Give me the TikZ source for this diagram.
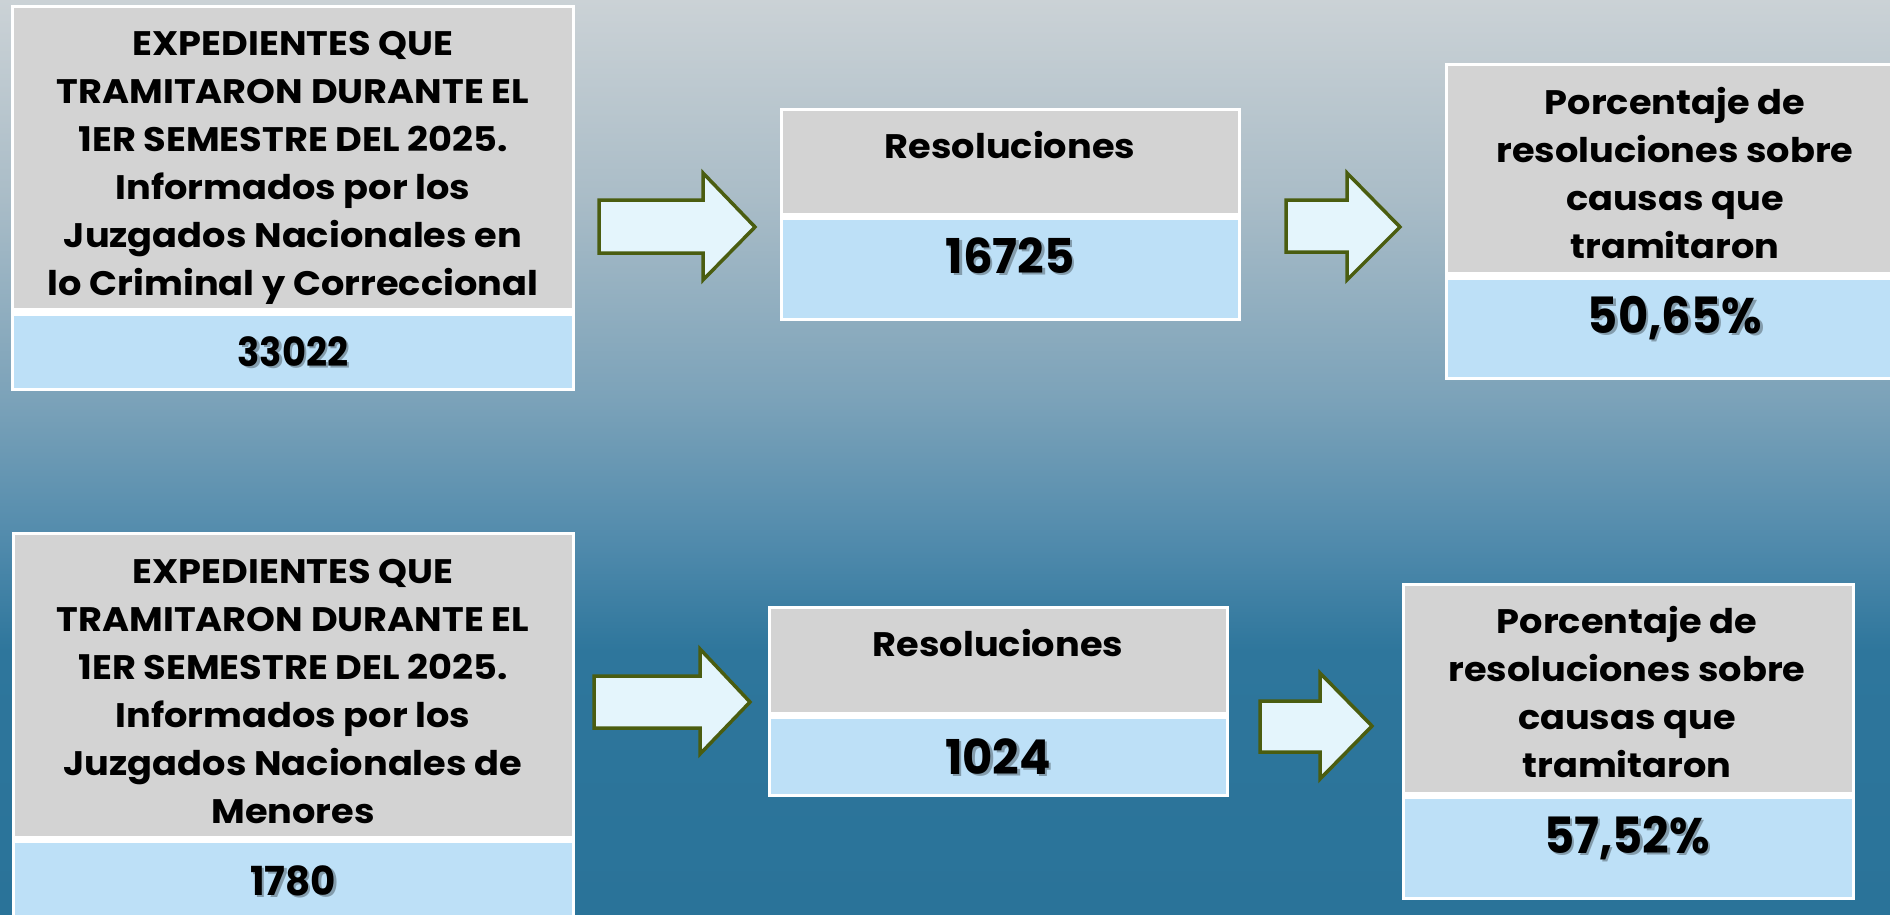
\documentclass[tikz,border=0pt]{standalone}
\usepackage{fontspec}
\setmainfont{Poppins}
\newfontfamily\ttlfont{Poppins}[FakeStretch=1.08]
\usepackage{graphicx}
\definecolor{bgA}{RGB}{203,210,214}
\definecolor{bgB}{RGB}{169,188,199}
\definecolor{bgC}{RGB}{123,162,185}
\definecolor{bgD}{RGB}{78,137,171}
\definecolor{bgE}{RGB}{46,118,156}
\definecolor{bgF}{RGB}{42,115,153}
\definecolor{graybox}{RGB}{211,211,211}
\definecolor{bluebox}{RGB}{189,224,247}
\definecolor{arrowfill}{RGB}{228,245,252}
\definecolor{arrowline}{RGB}{74,93,16}
\tikzset{
  ttl/.style={font=\ttlfont\bfseries\fontsize{34}{48}\selectfont, align=center, inner sep=0pt, anchor=north},
  num/.style={font=\bfseries\fontsize{#1}{48}\selectfont, inner sep=0pt, anchor=base},
  numshadow/.style={font=\bfseries\fontsize{#1}{48}\selectfont, inner sep=0pt, anchor=base, text=black, text opacity=0.3},
  blockarrow/.style={fill=arrowfill, draw=arrowline, line width=3.5pt, line join=miter},
}
\newcommand{\numtxt}[2]{\scalebox{#1}[1]{#2}}
\begin{document}
\begin{tikzpicture}[x=1pt,y=-1pt]
\useasboundingbox (0,0) rectangle (1890,915);
\begin{scope}
\clip (0,0) rectangle (1890,915);
% background gradient
\fill[top color=bgA, bottom color=bgB] (0,0) rectangle (1890,201);
\fill[top color=bgB, bottom color=bgC] (0,200) rectangle (1890,401);
\fill[top color=bgC, bottom color=bgD] (0,400) rectangle (1890,551);
\fill[top color=bgD, bottom color=bgE] (0,550) rectangle (1890,651);
\fill[top color=bgE, bottom color=bgF] (0,650) rectangle (1890,915);

% ---------- top row ----------
% box 1
\fill[white] (11,5) rectangle (575,391);
\fill[graybox] (14,8) rectangle (572,308);
\fill[bluebox] (14,316) rectangle (572,388);
% box 2
\fill[white] (780,108) rectangle (1241,321);
\fill[graybox] (783,111) rectangle (1238,213);
\fill[bluebox] (783,220) rectangle (1238,318);
% box 3
\fill[white] (1445,63) rectangle (1905,380);
\fill[graybox] (1448,66) rectangle (1902,272);
\fill[bluebox] (1448,280) rectangle (1902,377);

% ---------- bottom row ----------
% box 4
\fill[white] (12,532) rectangle (575,930);
\fill[graybox] (15,535) rectangle (572,836);
\fill[bluebox] (15,843) rectangle (572,927);
% box 5
\fill[white] (768,606) rectangle (1229,797);
\fill[graybox] (771,609) rectangle (1226,712);
\fill[bluebox] (771,719) rectangle (1226,794);
% box 6
\fill[white] (1402,583) rectangle (1855,900);
\fill[graybox] (1405,586) rectangle (1852,792);
\fill[bluebox] (1405,799) rectangle (1852,897);
\end{scope}

% arrows
\draw[blockarrow] (599,200) -- (703,200) -- (703,173) -- (755,227) -- (703,280) -- (703,253) -- (599,253) -- cycle;
\draw[blockarrow] (1286,200) -- (1347,200) -- (1347,173) -- (1400,227) -- (1347,280) -- (1347,252) -- (1286,252) -- cycle;
\draw[blockarrow] (594,676) -- (700,676) -- (700,649) -- (750,702) -- (700,754) -- (700,728) -- (594,728) -- cycle;
\draw[blockarrow] (1260,701) -- (1320,701) -- (1320,673) -- (1372,726) -- (1320,779) -- (1320,752) -- (1260,752) -- cycle;

% titles
\node[ttl] (t1) at (293,21.4) {\strut EXPEDIENTES QUE\\TRAMITARON DURANTE EL\\1ER SEMESTRE DEL 2025.\\Informados por los\\Juzgados Nacionales en\\lo Criminal y Correccional};
\node[ttl] (t2) at (1010,124.4) {\strut Resoluciones};
\node[ttl] (t3) at (1675,80.4) {\strut Porcentaje de\\resoluciones sobre\\causas que\\tramitaron};
\node[ttl] (t4) at (293,549.4) {\strut EXPEDIENTES QUE\\TRAMITARON DURANTE EL\\1ER SEMESTRE DEL 2025.\\Informados por los\\Juzgados Nacionales de\\Menores};
\node[ttl] (t5) at (998,622.4) {\strut Resoluciones};
\node[ttl] (t6) at (1627,599.4) {\strut Porcentaje de\\resoluciones sobre\\causas que\\tramitaron};

% numbers with shadows
\node[numshadow=40] (s1) at (295.5,368.5) {\numtxt{0.92}{33022}};
\node[num=40] (n1) at (293,366) {\numtxt{0.92}{33022}};
\node[numshadow=48] (s2) at (1012.5,275.5) {\numtxt{0.97}{16725}};
\node[num=48] (n2) at (1010,273) {\numtxt{0.97}{16725}};
\node[numshadow=50] (s3) at (1677.5,335.5) {\numtxt{0.93}{50,65\%}};
\node[num=50] (n3) at (1675,333) {\numtxt{0.93}{50,65\%}};
\node[numshadow=40] (s4) at (295.5,897.5) {\numtxt{0.97}{1780}};
\node[num=40] (n4) at (293,895) {\numtxt{0.97}{1780}};
\node[numshadow=48] (s5) at (1000.5,776.5) {\numtxt{0.97}{1024}};
\node[num=48] (n5) at (998,774) {\numtxt{0.97}{1024}};
\node[numshadow=50] (s6) at (1629.5,855.5) {\numtxt{0.93}{57,52\%}};
\node[num=50] (n6) at (1627,853) {\numtxt{0.93}{57,52\%}};
\end{tikzpicture}
\end{document}
